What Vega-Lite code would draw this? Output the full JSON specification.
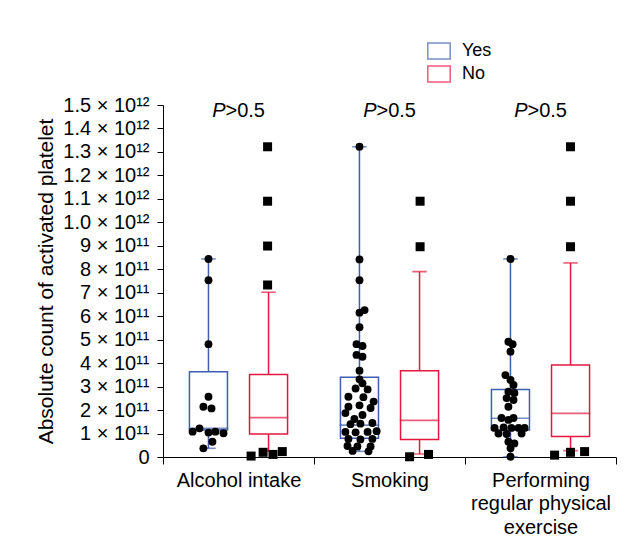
{
  "$schema": "https://vega.github.io/schema/vega-lite/v6.json",
  "width": 453,
  "height": 352,
  "autosize": {"type": "none"},
  "padding": {"left": 163, "top": 105, "right": 17, "bottom": 95},
  "background": "white",
  "config": {
    "view": {"stroke": null},
    "font": "Liberation Sans",
    "axis": {"domainColor": "black", "tickColor": "black", "labelColor": "black", "titleColor": "black", "labelFont": "Liberation Sans", "titleFont": "Liberation Sans", "grid": false},
    "axisY": {
      "titleFontSize": 21,
      "titleFontWeight": "normal",
      "titlePadding": 6,
      "tickSize": 6,
      "labelPadding": 8,
      "labelFontSize": 20,
      "labelLimit": 300
    },
    "legend": {"symbolFillColor": "white", "symbolStrokeWidth": 1.5}
  },
  "datasets": {
    "boxes": [
      {"cat": "Alcohol intake", "grp": "Yes", "lo": 0.37e11, "q1": 1.15e11, "med": 1.22e11, "q3": 3.63e11, "hi": 8.44e11},
      {"cat": "Alcohol intake", "grp": "No", "lo": 0.25e11, "q1": 0.98e11, "med": 1.68e11, "q3": 3.52e11, "hi": 7.02e11},
      {"cat": "Smoking", "grp": "Yes", "lo": 0.24e11, "q1": 0.8e11, "med": 1.36e11, "q3": 3.40e11, "hi": 13.22e11},
      {"cat": "Smoking", "grp": "No", "lo": 0.13e11, "q1": 0.75e11, "med": 1.56e11, "q3": 3.68e11, "hi": 7.9e11},
      {"cat": "Performing regular physical exercise", "grp": "Yes", "lo": 0.01e11, "q1": 1.15e11, "med": 1.65e11, "q3": 2.88e11, "hi": 8.44e11},
      {"cat": "Performing regular physical exercise", "grp": "No", "lo": 0.27e11, "q1": 0.87e11, "med": 1.86e11, "q3": 3.92e11, "hi": 8.27e11}
    ],
    "points": [
      {"cat": "Alcohol intake", "grp": "Yes", "v": 8.44e11, "jit": 0},
      {"cat": "Alcohol intake", "grp": "Yes", "v": 7.53e11, "jit": 0},
      {"cat": "Alcohol intake", "grp": "Yes", "v": 4.81e11, "jit": 0},
      {"cat": "Alcohol intake", "grp": "Yes", "v": 2.57e11, "jit": 0},
      {"cat": "Alcohol intake", "grp": "Yes", "v": 2.14e11, "jit": -0.17},
      {"cat": "Alcohol intake", "grp": "Yes", "v": 2.07e11, "jit": 0.1},
      {"cat": "Alcohol intake", "grp": "Yes", "v": 1.22e11, "jit": -0.3},
      {"cat": "Alcohol intake", "grp": "Yes", "v": 1.08e11, "jit": -0.53},
      {"cat": "Alcohol intake", "grp": "Yes", "v": 1.04e11, "jit": 0},
      {"cat": "Alcohol intake", "grp": "Yes", "v": 1.08e11, "jit": 0.23},
      {"cat": "Alcohol intake", "grp": "Yes", "v": 1.01e11, "jit": 0.5},
      {"cat": "Alcohol intake", "grp": "Yes", "v": 0.65e11, "jit": 0.13},
      {"cat": "Alcohol intake", "grp": "Yes", "v": 0.37e11, "jit": -0.17},
      {"cat": "Alcohol intake", "grp": "No", "v": 13.22e11, "jit": -0.03},
      {"cat": "Alcohol intake", "grp": "No", "v": 10.9e11, "jit": -0.03},
      {"cat": "Alcohol intake", "grp": "No", "v": 8.99e11, "jit": -0.03},
      {"cat": "Alcohol intake", "grp": "No", "v": 7.33e11, "jit": -0.03},
      {"cat": "Alcohol intake", "grp": "No", "v": 0.04e11, "jit": -0.58},
      {"cat": "Alcohol intake", "grp": "No", "v": 0.2e11, "jit": -0.18},
      {"cat": "Alcohol intake", "grp": "No", "v": 0.11e11, "jit": 0.15},
      {"cat": "Alcohol intake", "grp": "No", "v": 0.23e11, "jit": 0.46},
      {"cat": "Smoking", "grp": "Yes", "v": 13.22e11, "jit": 0},
      {"cat": "Smoking", "grp": "Yes", "v": 8.42e11, "jit": 0},
      {"cat": "Smoking", "grp": "Yes", "v": 7.53e11, "jit": 0},
      {"cat": "Smoking", "grp": "Yes", "v": 6.15e11, "jit": 0},
      {"cat": "Smoking", "grp": "Yes", "v": 6.26e11, "jit": 0.17},
      {"cat": "Smoking", "grp": "Yes", "v": 5.53e11, "jit": 0},
      {"cat": "Smoking", "grp": "Yes", "v": 4.81e11, "jit": -0.1},
      {"cat": "Smoking", "grp": "Yes", "v": 4.73e11, "jit": 0.1},
      {"cat": "Smoking", "grp": "Yes", "v": 4.35e11, "jit": -0.1},
      {"cat": "Smoking", "grp": "Yes", "v": 4.27e11, "jit": 0.1},
      {"cat": "Smoking", "grp": "Yes", "v": 3.68e11, "jit": 0},
      {"cat": "Smoking", "grp": "Yes", "v": 3.31e11, "jit": 0},
      {"cat": "Smoking", "grp": "Yes", "v": 3.14e11, "jit": 0.1},
      {"cat": "Smoking", "grp": "Yes", "v": 2.92e11, "jit": -0.13},
      {"cat": "Smoking", "grp": "Yes", "v": 2.88e11, "jit": 0.27},
      {"cat": "Smoking", "grp": "Yes", "v": 2.57e11, "jit": -0.37},
      {"cat": "Smoking", "grp": "Yes", "v": 2.55e11, "jit": 0.13},
      {"cat": "Smoking", "grp": "Yes", "v": 2.36e11, "jit": 0.47},
      {"cat": "Smoking", "grp": "Yes", "v": 2.2e11, "jit": 0},
      {"cat": "Smoking", "grp": "Yes", "v": 2.14e11, "jit": -0.37},
      {"cat": "Smoking", "grp": "Yes", "v": 2.09e11, "jit": 0.37},
      {"cat": "Smoking", "grp": "Yes", "v": 1.87e11, "jit": -0.47},
      {"cat": "Smoking", "grp": "Yes", "v": 1.79e11, "jit": 0.1},
      {"cat": "Smoking", "grp": "Yes", "v": 1.62e11, "jit": -0.17},
      {"cat": "Smoking", "grp": "Yes", "v": 1.4e11, "jit": -0.3},
      {"cat": "Smoking", "grp": "Yes", "v": 1.42e11, "jit": 0.03},
      {"cat": "Smoking", "grp": "Yes", "v": 1.45e11, "jit": 0.43},
      {"cat": "Smoking", "grp": "Yes", "v": 1.07e11, "jit": -0.47},
      {"cat": "Smoking", "grp": "Yes", "v": 1.05e11, "jit": -0.13},
      {"cat": "Smoking", "grp": "Yes", "v": 1.07e11, "jit": 0.27},
      {"cat": "Smoking", "grp": "Yes", "v": 1.1e11, "jit": 0.57},
      {"cat": "Smoking", "grp": "Yes", "v": 0.77e11, "jit": -0.37},
      {"cat": "Smoking", "grp": "Yes", "v": 0.75e11, "jit": 0.03},
      {"cat": "Smoking", "grp": "Yes", "v": 0.77e11, "jit": 0.43},
      {"cat": "Smoking", "grp": "Yes", "v": 0.47e11, "jit": -0.4},
      {"cat": "Smoking", "grp": "Yes", "v": 0.45e11, "jit": -0.07},
      {"cat": "Smoking", "grp": "Yes", "v": 0.45e11, "jit": 0.37},
      {"cat": "Smoking", "grp": "Yes", "v": 0.26e11, "jit": -0.23},
      {"cat": "Smoking", "grp": "Yes", "v": 0.24e11, "jit": 0.3},
      {"cat": "Smoking", "grp": "No", "v": 10.9e11, "jit": 0.02},
      {"cat": "Smoking", "grp": "No", "v": 8.96e11, "jit": 0.02},
      {"cat": "Smoking", "grp": "No", "v": 0.01e11, "jit": -0.33},
      {"cat": "Smoking", "grp": "No", "v": 0.11e11, "jit": 0.3},
      {"cat": "Performing regular physical exercise", "grp": "Yes", "v": 8.44e11, "jit": 0},
      {"cat": "Performing regular physical exercise", "grp": "Yes", "v": 4.91e11, "jit": -0.07},
      {"cat": "Performing regular physical exercise", "grp": "Yes", "v": 4.81e11, "jit": 0.07},
      {"cat": "Performing regular physical exercise", "grp": "Yes", "v": 4.49e11, "jit": 0},
      {"cat": "Performing regular physical exercise", "grp": "Yes", "v": 3.49e11, "jit": -0.17},
      {"cat": "Performing regular physical exercise", "grp": "Yes", "v": 3.28e11, "jit": 0},
      {"cat": "Performing regular physical exercise", "grp": "Yes", "v": 3.07e11, "jit": 0.1},
      {"cat": "Performing regular physical exercise", "grp": "Yes", "v": 2.78e11, "jit": -0.07},
      {"cat": "Performing regular physical exercise", "grp": "Yes", "v": 2.73e11, "jit": 0.13},
      {"cat": "Performing regular physical exercise", "grp": "Yes", "v": 2.51e11, "jit": -0.13},
      {"cat": "Performing regular physical exercise", "grp": "Yes", "v": 2.43e11, "jit": 0.1},
      {"cat": "Performing regular physical exercise", "grp": "Yes", "v": 2.14e11, "jit": -0.07},
      {"cat": "Performing regular physical exercise", "grp": "Yes", "v": 1.66e11, "jit": -0.3},
      {"cat": "Performing regular physical exercise", "grp": "Yes", "v": 1.58e11, "jit": -0.07},
      {"cat": "Performing regular physical exercise", "grp": "Yes", "v": 1.66e11, "jit": 0.1},
      {"cat": "Performing regular physical exercise", "grp": "Yes", "v": 1.24e11, "jit": -0.53},
      {"cat": "Performing regular physical exercise", "grp": "Yes", "v": 1.26e11, "jit": -0.23},
      {"cat": "Performing regular physical exercise", "grp": "Yes", "v": 1.24e11, "jit": 0.03},
      {"cat": "Performing regular physical exercise", "grp": "Yes", "v": 1.24e11, "jit": 0.27},
      {"cat": "Performing regular physical exercise", "grp": "Yes", "v": 1.24e11, "jit": 0.47},
      {"cat": "Performing regular physical exercise", "grp": "Yes", "v": 1.0e11, "jit": -0.4},
      {"cat": "Performing regular physical exercise", "grp": "Yes", "v": 0.98e11, "jit": -0.13},
      {"cat": "Performing regular physical exercise", "grp": "Yes", "v": 1.0e11, "jit": 0.37},
      {"cat": "Performing regular physical exercise", "grp": "Yes", "v": 0.65e11, "jit": -0.07},
      {"cat": "Performing regular physical exercise", "grp": "Yes", "v": 0.58e11, "jit": 0.13},
      {"cat": "Performing regular physical exercise", "grp": "Yes", "v": 0.37e11, "jit": 0},
      {"cat": "Performing regular physical exercise", "grp": "Yes", "v": 0.01e11, "jit": 0},
      {"cat": "Performing regular physical exercise", "grp": "No", "v": 13.22e11, "jit": 0},
      {"cat": "Performing regular physical exercise", "grp": "No", "v": 10.9e11, "jit": 0},
      {"cat": "Performing regular physical exercise", "grp": "No", "v": 8.96e11, "jit": 0},
      {"cat": "Performing regular physical exercise", "grp": "No", "v": 0.08e11, "jit": -0.53},
      {"cat": "Performing regular physical exercise", "grp": "No", "v": 0.2e11, "jit": 0},
      {"cat": "Performing regular physical exercise", "grp": "No", "v": 0.23e11, "jit": 0.47}
    ],
    "pvals": [
      {"cat": "Alcohol intake", "sym": "P", "rel": ">0.5"},
      {"cat": "Smoking", "sym": "P", "rel": ">0.5"},
      {"cat": "Performing regular physical exercise", "sym": "P", "rel": ">0.5"}
    ]
  },
  "encoding": {
    "x": {
      "field": "cat",
      "type": "nominal",
      "sort": ["Alcohol intake", "Smoking", "Performing regular physical exercise"],
      "scale": {"domain": ["Alcohol intake", "Smoking", "Performing regular physical exercise"], "paddingInner": 0, "paddingOuter": 0},
      "axis": {
        "title": null,
        "labelAngle": 0,
        "tickBand": "extent",
        "tickSize": 7,
        "labelFontSize": 20,
        "labelPadding": 6,
        "labelLineHeight": 23.5,
        "labelLimit": 300,
        "labelExpr": "datum.label == 'Performing regular physical exercise' ? ['Performing', 'regular physical', 'exercise'] : datum.label"
      }
    }
  },
  "resolve": {"scale": {"xOffset": "independent"}},
  "layer": [
    {
      "data": {"name": "boxes"},
      "mark": {"type": "rule", "strokeWidth": 1.5},
      "encoding": {
        "xOffset": {"field": "grp", "type": "nominal", "scale": {"domain": ["Yes", "No"], "paddingInner": 0.367, "paddingOuter": 0.44}},
        "y": {
          "field": "lo",
          "type": "quantitative",
          "scale": {"domain": [0, 1.5e12], "nice": false},
          "axis": {"title": "Absolute count of activated platelet", "values": [0, 1e11, 2e11, 3e11, 4e11, 5e11, 6e11, 7e11, 8e11, 9e11, 1e12, 1.1e12, 1.2e12, 1.3e12, 1.4e12, 1.5e12], "labelExpr": "datum.value == 0 ? '0' : (datum.value < 0.95e12 ? format(datum.value / 1e11, 'd') + ' × 10¹¹' : format(datum.value / 1e12, '.1f') + ' × 10¹²')"}
        },
        "y2": {"field": "q1"},
        "stroke": {
          "field": "grp",
          "type": "nominal",
          "scale": {"domain": ["Yes", "No"], "range": ["#3f5fae", "#e4173e"]},
          "legend": {"title": null, "orient": "none", "legendX": 267, "legendY": -63, "symbolType": "M-1.4,-1L1.4,-1L1.4,1L-1.4,1Z", "symbolSize": 256, "symbolFillColor": "white", "symbolStrokeWidth": 1.5, "labelFontSize": 18, "labelColor": "black", "labelFont": "Liberation Sans", "labelOffset": 14, "rowPadding": 1}
        }
      }
    },
    {
      "data": {"name": "boxes"},
      "mark": {"type": "rule", "strokeWidth": 1.5},
      "encoding": {
        "xOffset": {"field": "grp", "type": "nominal", "scale": {"domain": ["Yes", "No"], "paddingInner": 0.367, "paddingOuter": 0.44}},
        "y": {"field": "q3", "type": "quantitative", "axis": {"title": "Absolute count of activated platelet", "values": [0, 1e11, 2e11, 3e11, 4e11, 5e11, 6e11, 7e11, 8e11, 9e11, 1e12, 1.1e12, 1.2e12, 1.3e12, 1.4e12, 1.5e12], "labelExpr": "datum.value == 0 ? '0' : (datum.value < 0.95e12 ? format(datum.value / 1e11, 'd') + ' × 10¹¹' : format(datum.value / 1e12, '.1f') + ' × 10¹²')"}},
        "y2": {"field": "hi"},
        "stroke": {"field": "grp", "type": "nominal"}
      }
    },
    {
      "data": {"name": "boxes"},
      "transform": [{"fold": ["lo", "hi"], "as": ["end", "val"]}],
      "mark": {"type": "tick", "filled": false, "thickness": 0.1, "strokeWidth": 1.5, "size": 13},
      "encoding": {
        "xOffset": {"field": "grp", "type": "nominal", "scale": {"domain": ["Yes", "No"], "paddingInner": 0.367, "paddingOuter": 0.44}},
        "y": {"field": "val", "type": "quantitative", "axis": {"title": "Absolute count of activated platelet", "values": [0, 1e11, 2e11, 3e11, 4e11, 5e11, 6e11, 7e11, 8e11, 9e11, 1e12, 1.1e12, 1.2e12, 1.3e12, 1.4e12, 1.5e12], "labelExpr": "datum.value == 0 ? '0' : (datum.value < 0.95e12 ? format(datum.value / 1e11, 'd') + ' × 10¹¹' : format(datum.value / 1e12, '.1f') + ' × 10¹²')"}},
        "stroke": {"field": "grp", "type": "nominal"}
      }
    },
    {
      "data": {"name": "boxes"},
      "mark": {"type": "bar", "filled": false, "strokeWidth": 1.5},
      "encoding": {
        "xOffset": {"field": "grp", "type": "nominal", "scale": {"domain": ["Yes", "No"], "paddingInner": 0.367, "paddingOuter": 0.44}},
        "y": {"field": "q1", "type": "quantitative", "axis": {"title": "Absolute count of activated platelet", "values": [0, 1e11, 2e11, 3e11, 4e11, 5e11, 6e11, 7e11, 8e11, 9e11, 1e12, 1.1e12, 1.2e12, 1.3e12, 1.4e12, 1.5e12], "labelExpr": "datum.value == 0 ? '0' : (datum.value < 0.95e12 ? format(datum.value / 1e11, 'd') + ' × 10¹¹' : format(datum.value / 1e12, '.1f') + ' × 10¹²')"}},
        "y2": {"field": "q3"},
        "stroke": {"field": "grp", "type": "nominal"}
      }
    },
    {
      "data": {"name": "boxes"},
      "mark": {"type": "tick", "filled": false, "thickness": 0.1, "strokeWidth": 1.5, "size": 38},
      "encoding": {
        "xOffset": {"field": "grp", "type": "nominal", "scale": {"domain": ["Yes", "No"], "paddingInner": 0.367, "paddingOuter": 0.44}},
        "y": {"field": "med", "type": "quantitative", "axis": {"title": "Absolute count of activated platelet", "values": [0, 1e11, 2e11, 3e11, 4e11, 5e11, 6e11, 7e11, 8e11, 9e11, 1e12, 1.1e12, 1.2e12, 1.3e12, 1.4e12, 1.5e12], "labelExpr": "datum.value == 0 ? '0' : (datum.value < 0.95e12 ? format(datum.value / 1e11, 'd') + ' × 10¹¹' : format(datum.value / 1e12, '.1f') + ' × 10¹²')"}},
        "stroke": {"field": "grp", "type": "nominal"}
      }
    },
    {
      "data": {"name": "points"},
      "transform": [{"filter": "datum.grp == 'Yes'"}, {"calculate": "datum.jit - 1", "as": "xo"}],
      "mark": {"type": "circle", "color": "black", "opacity": 1, "size": 62},
      "encoding": {
        "xOffset": {"field": "xo", "type": "quantitative", "scale": {"domain": [-2.517, 2.517], "range": [0, 151]}},
        "y": {"field": "v", "type": "quantitative", "axis": {"title": "Absolute count of activated platelet", "values": [0, 1e11, 2e11, 3e11, 4e11, 5e11, 6e11, 7e11, 8e11, 9e11, 1e12, 1.1e12, 1.2e12, 1.3e12, 1.4e12, 1.5e12], "labelExpr": "datum.value == 0 ? '0' : (datum.value < 0.95e12 ? format(datum.value / 1e11, 'd') + ' × 10¹¹' : format(datum.value / 1e12, '.1f') + ' × 10¹²')"}}
      }
    },
    {
      "data": {"name": "points"},
      "transform": [{"filter": "datum.grp == 'No'"}, {"calculate": "datum.jit + 1", "as": "xo"}],
      "mark": {"type": "square", "color": "black", "opacity": 1, "size": 81},
      "encoding": {
        "xOffset": {"field": "xo", "type": "quantitative", "scale": {"domain": [-2.517, 2.517], "range": [0, 151]}},
        "y": {"field": "v", "type": "quantitative", "axis": {"title": "Absolute count of activated platelet", "values": [0, 1e11, 2e11, 3e11, 4e11, 5e11, 6e11, 7e11, 8e11, 9e11, 1e12, 1.1e12, 1.2e12, 1.3e12, 1.4e12, 1.5e12], "labelExpr": "datum.value == 0 ? '0' : (datum.value < 0.95e12 ? format(datum.value / 1e11, 'd') + ' × 10¹¹' : format(datum.value / 1e12, '.1f') + ' × 10¹²')"}}
      }
    },
    {
      "data": {"name": "pvals"},
      "mark": {"type": "text", "fontSize": 20, "fontStyle": "italic", "align": "right", "dx": -13, "baseline": "alphabetic", "color": "black"},
      "encoding": {
        "y": {"datum": 1.45e12, "type": "quantitative", "axis": {"title": "Absolute count of activated platelet", "values": [0, 1e11, 2e11, 3e11, 4e11, 5e11, 6e11, 7e11, 8e11, 9e11, 1e12, 1.1e12, 1.2e12, 1.3e12, 1.4e12, 1.5e12], "labelExpr": "datum.value == 0 ? '0' : (datum.value < 0.95e12 ? format(datum.value / 1e11, 'd') + ' × 10¹¹' : format(datum.value / 1e12, '.1f') + ' × 10¹²')"}},
        "text": {"field": "sym"}
      }
    },
    {
      "data": {"name": "pvals"},
      "mark": {"type": "text", "fontSize": 20, "align": "left", "dx": -13, "baseline": "alphabetic", "color": "black"},
      "encoding": {
        "y": {"datum": 1.45e12, "type": "quantitative", "axis": {"title": "Absolute count of activated platelet", "values": [0, 1e11, 2e11, 3e11, 4e11, 5e11, 6e11, 7e11, 8e11, 9e11, 1e12, 1.1e12, 1.2e12, 1.3e12, 1.4e12, 1.5e12], "labelExpr": "datum.value == 0 ? '0' : (datum.value < 0.95e12 ? format(datum.value / 1e11, 'd') + ' × 10¹¹' : format(datum.value / 1e12, '.1f') + ' × 10¹²')"}},
        "text": {"field": "rel"}
      }
    }
  ]
}
